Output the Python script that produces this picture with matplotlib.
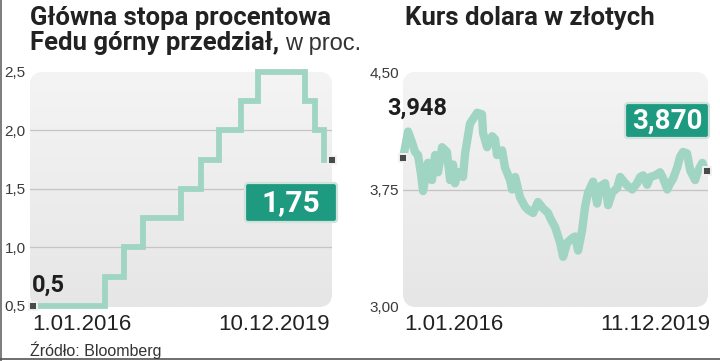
import matplotlib
matplotlib.use("Agg")
import matplotlib.pyplot as plt
import matplotlib.dates as mdates
import numpy as np
import pandas as pd
from matplotlib.colors import LinearSegmentedColormap
from matplotlib.patches import FancyBboxPatch
from matplotlib.transforms import Affine2D

W, H = 720, 361

# Fed funds target range, upper bound (step changes)
fed_dates = ["2016-01-01", "2016-12-15", "2017-03-16", "2017-06-15", "2017-12-14",
             "2018-03-22", "2018-06-14", "2018-09-27", "2018-12-20", "2019-08-01",
             "2019-09-19", "2019-10-31", "2019-12-10"]
fed_upper = [0.5, 0.75, 1.0, 1.25, 1.5, 1.75, 2.0, 2.25, 2.5, 2.25, 2.0, 1.75, 1.75]

# USD/PLN
usd_dates = ["2016-01-01", "2016-01-25", "2016-02-13", "2016-02-27", "2016-03-12",
             "2016-03-26", "2016-04-05", "2016-04-28", "2016-05-17", "2016-06-01",
             "2016-06-15", "2016-07-04", "2016-07-27", "2016-08-11", "2016-08-25",
             "2016-09-03", "2016-09-18", "2016-10-11", "2016-10-21", "2016-11-13",
             "2016-12-17", "2017-01-09", "2017-01-14", "2017-02-02", "2017-02-26",
             "2017-03-12", "2017-03-21", "2017-04-14", "2017-04-28", "2017-05-22",
             "2017-05-31", "2017-06-15", "2017-07-08", "2017-08-01", "2017-08-15",
             "2017-09-08", "2017-10-01", "2017-10-25", "2017-11-18", "2017-11-27",
             "2017-12-21", "2018-01-14", "2018-01-28", "2018-02-16", "2018-03-12",
             "2018-03-26", "2018-04-09", "2018-04-28", "2018-05-12", "2018-05-26",
             "2018-06-19", "2018-07-08", "2018-07-22", "2018-08-15", "2018-08-29",
             "2018-09-17", "2018-10-11", "2018-10-25", "2018-11-18", "2018-12-02",
             "2018-12-21", "2019-01-13", "2019-01-28", "2019-02-11", "2019-03-02",
             "2019-03-16", "2019-04-09", "2019-05-02", "2019-05-17", "2019-06-05",
             "2019-06-19", "2019-07-03", "2019-07-22", "2019-08-05", "2019-08-19",
             "2019-09-07", "2019-09-22", "2019-10-15", "2019-10-29", "2019-11-18",
             "2019-12-02", "2019-12-11"]
usd_pln = [3.948, 4.12, 4.05, 3.99, 3.97, 3.85, 3.74, 3.92, 3.81, 3.97,
           3.86, 4.02, 3.99, 3.81, 3.91, 3.79, 3.86, 3.83, 3.98, 4.17,
           4.24, 4.23, 4.11, 4.02, 4.09, 4.07, 3.97, 4.00, 3.89, 3.81,
           3.75, 3.83, 3.70, 3.64, 3.62, 3.60, 3.67, 3.63, 3.60, 3.57,
           3.51, 3.41, 3.32, 3.41, 3.44, 3.45, 3.36, 3.49, 3.64, 3.73,
           3.80, 3.66, 3.77, 3.79, 3.65, 3.73, 3.76, 3.83, 3.79, 3.77,
           3.75, 3.79, 3.83, 3.84, 3.78, 3.83, 3.84, 3.86, 3.82, 3.75,
           3.79, 3.82, 3.89, 3.96, 3.99, 3.98, 3.87, 3.81, 3.87, 3.92,
           3.87, 3.870]

fed_ticks = [0.5, 1.0, 1.5, 2.0, 2.5]
fed_tick_labels = ["0,5", "1,0", "1,5", "2,0", "2,5"]
usd_ticks = [3.0, 3.75, 4.5]
usd_tick_labels = ["3,00", "3,75", "4,50"]

LINE = "#a0d5c4"
BOX = "#1e9a80"
BOLD = ["Roboto", "DejaVu Sans"]
REG = ["Liberation Sans", "DejaVu Sans"]

fig = plt.figure(figsize=(W / 100, H / 100), dpi=100)
# pixel coordinates, origin top-left
px = Affine2D().scale(1 / W, -1 / H).translate(0, 1) + fig.transFigure
grad = LinearSegmentedColormap.from_list("bg", ["#f4f4f4", "#e6e6e6"])

TOP, BOTTOM = 72, 307


def panel(x0, x1, xs, ys, xlim, ylim, ticks, labels, grid, lw, step=False):
    ax = fig.add_axes([x0 / W, 1 - BOTTOM / H, (x1 - x0) / W, (BOTTOM - TOP) / H])
    ax.set_facecolor("none")
    for s in ax.spines.values():
        s.set_visible(False)
    bg = FancyBboxPatch((x0, TOP), x1 - x0, BOTTOM - TOP,
                        boxstyle="round,pad=0,rounding_size=14",
                        transform=px, fc="#ebebeb", ec="none", zorder=0.3)
    ax.add_artist(bg)
    im = ax.imshow(np.linspace(0, 1, 100).reshape(-1, 1), cmap=grad, aspect="auto",
                   extent=[0, 1, 0, 1], transform=ax.transAxes, zorder=0.4)
    im.set_clip_path(bg)
    for g in grid:
        ax.axhline(g, color="#c4c4c4", lw=0.9, zorder=1)
    if step:
        ax.step(xs, ys, where="post", color=LINE, lw=lw, zorder=2,
                solid_joinstyle="miter", clip_on=False)
    else:
        ax.plot(xs, ys, color=LINE, lw=lw, zorder=2, solid_joinstyle="round",
                clip_on=False)
    for i in (0, -1):
        ax.plot(xs[i], ys[i], marker="s", ms=5.2, mfc="#4a4a4a", mec="#f2f2f2",
                mew=1.4, zorder=3, clip_on=False)
    ax.set_xlim(*xlim)
    ax.set_ylim(*ylim)
    ax.set_xticks([])
    ax.set_yticks(ticks, labels)
    ax.tick_params(axis="y", length=0, pad=3, labelsize=11, labelcolor="#3a3a3a")
    for t in ax.get_yticklabels():
        t.set_family(REG)
    return ax


fx = mdates.date2num(pd.to_datetime(fed_dates))
ux = mdates.date2num(pd.to_datetime(usd_dates))

panel(30, 332, fx, fed_upper, (fx[0] - 14, fx[-1]), (0.49, 2.5),
      fed_ticks, fed_tick_labels, [1.0, 1.5, 2.0], 4.2, step=True)
panel(403, 708, ux, usd_pln, (ux[0], ux[-1] + 4), (3.0, 4.5),
      usd_ticks, usd_tick_labels, [3.75], 6.0)


def ptext(x, y, s, **kw):
    return fig.text(x / W, 1 - y / H, s, **kw)


# titles
tkw = dict(family=BOLD, fontweight="bold", fontsize=18.5, color="#222222", va="baseline")
ptext(30, 25, "Główna stopa procentowa", **tkw)
t2 = ptext(30, 50, "Fedu górny przedział,", **tkw)
ptext(405, 25, "Kurs dolara w złotych", **tkw)
fig.canvas.draw()
bb = t2.get_window_extent(fig.canvas.get_renderer())
fig.text(bb.x1 / W + 6 / W, 1 - 50 / H, "w proc.", family=REG, fontsize=17,
         color="#333333", va="baseline")

# start values
ptext(32, 292, "0,5", family=BOLD, fontweight="bold", fontsize=17, color="#1e1e1e",
      va="baseline")
ptext(387, 115, "3,948", family=BOLD, fontweight="bold", fontsize=17,
      color="#1e1e1e", va="baseline")

# end value boxes
for (bx0, by0, bx1, by1, label, fs) in [(245, 183, 337, 222, "1,75", 21.5),
                                        (625, 103, 709, 138, "3,870", 20)]:
    fig.add_artist(FancyBboxPatch((bx0, by0), bx1 - bx0, by1 - by0,
                                  boxstyle="round,pad=0,rounding_size=3",
                                  transform=px, fc=BOX, ec="#cfe3dc", lw=1.6,
                                  zorder=5))
    ptext((bx0 + bx1) / 2, (by0 + by1) / 2 + 1, label, family=BOLD,
          fontweight="bold", fontsize=fs, color="white", ha="center", va="center",
          zorder=6)

# date labels
dkw = dict(family=REG, fontsize=16, color="#222222", va="baseline")
ptext(32, 330, "1.01.2016", **dkw)
ptext(330, 330, "10.12.2019", ha="right", **dkw)
ptext(404, 330, "1.01.2016", **dkw)
ptext(710, 330, "11.12.2019", ha="right", **dkw)

ptext(30, 356, "Źródło: Bloomberg", family=REG, fontsize=11.5, color="#333333",
      va="baseline")

# frame remnants
fig.add_artist(plt.Line2D([1 / W, 1 / W], [0, 1], color="#666666", lw=1.2))
fig.add_artist(plt.Line2D([0, 1], [2 / H, 2 / H], color="#555555", lw=1.2))

fig.savefig("out.png", dpi=100)
